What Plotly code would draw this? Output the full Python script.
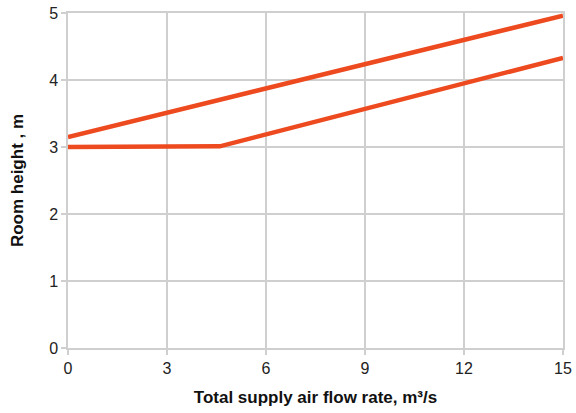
import plotly.graph_objects as go

# Room height limits vs. total supply air flow rate
flow_upper = [0, 15]
height_upper = [3.15, 4.96]

flow_lower = [0, 4.6, 15]
height_lower = [3.0, 3.01, 4.33]

x_ticks = [0, 3, 6, 9, 12, 15]
y_ticks = [0, 1, 2, 3, 4, 5]

line_color = "#ee4a1f"
grid_color = "#cfcfcf"
font_family = "Liberation Sans, Arial, sans-serif"

fig = go.Figure()
fig.add_trace(go.Scatter(x=flow_upper, y=height_upper, mode="lines",
                         line=dict(color=line_color, width=4.5), showlegend=False))
fig.add_trace(go.Scatter(x=flow_lower, y=height_lower, mode="lines",
                         line=dict(color=line_color, width=4.5), showlegend=False))

axis_common = dict(
    showgrid=True, gridcolor=grid_color, gridwidth=1.5,
    showline=True, linecolor=grid_color, linewidth=1.5, mirror=True,
    ticks="outside", ticklen=5, tickcolor=grid_color, tickwidth=1.5,
    zeroline=False, automargin=False,
    tickfont=dict(family=font_family, size=16, color="#222"),
)

fig.update_layout(
    width=576, height=413,
    margin=dict(l=68, r=13, t=13, b=65),
    paper_bgcolor="white", plot_bgcolor="white",
    xaxis=dict(range=[0, 15], tickvals=x_ticks,
               title=dict(text="<b>Total supply air flow rate, m³/s</b>",
                          font=dict(family=font_family, size=17, color="#111"),
                          standoff=15),
               **axis_common),
    yaxis=dict(range=[0, 5], tickvals=y_ticks,
               title=dict(text="<b>Room height , m</b>",
                          font=dict(family=font_family, size=17, color="#111"),
                          standoff=21),
               **axis_common),
)

fig.write_html("out.html")
